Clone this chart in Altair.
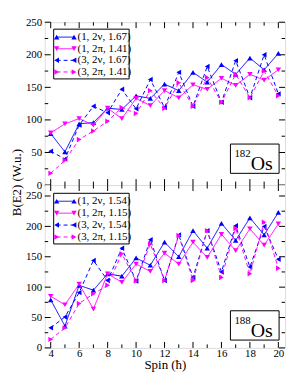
import altair as alt
import pandas as pd

# ---------------- data ----------------
spin = list(range(4, 21))

os182_1nu = [79, 51, 94, 96, 118, 116, 137, 133, 155, 145, 173, 158, 185, 170, 195, 177, 202]
os182_1pi = [80, 94, 102, 92, 118, 102, 133, 122, 145, 134, 154, 147, 164, 153, 170, 161, 177]
os182_3nu = [52, 40, 92, 121, 111, 147, 117, 162, 119, 173, 121, 182, 127, 191, 134, 200, 140]
os182_3pi = [18, 38, 70, 83, 98, 119, 110, 145, 118, 157, 121, 165, 127, 170, 134, 175, 137]

os188_1nu = [79, 36, 103, 95, 122, 118, 148, 136, 174, 150, 193, 164, 205, 177, 214, 186, 223]
os188_1pi = [85, 71, 105, 64, 122, 108, 138, 126, 156, 138, 174, 149, 187, 160, 196, 169, 204]
os188_3nu = [33, 51, 91, 144, 111, 164, 110, 178, 111, 186, 116, 193, 125, 201, 133, 200, 146]
os188_3pi = [14, 33, 73, 89, 103, 155, 110, 171, 111, 185, 111, 193, 116, 197, 122, 207, 131]

labels182 = ["(1, 2ν, 1.67)", "(1, 2π, 1.41)", "(3, 2ν, 1.67)", "(3, 2π, 1.41)"]
labels188 = ["(1, 2ν, 1.54)", "(1, 2π, 1.15)", "(3, 2ν, 1.54)", "(3, 2π, 1.15)"]

x_major = [4, 6, 8, 10, 12, 14, 16, 18, 20]
x_minor = [5, 7, 9, 11, 13, 15, 17, 19]
y_major = [0, 50, 100, 150, 200, 250]
y_minor = [25, 75, 125, 175, 225]

# ---------------- style ----------------
keys = ["a", "b", "c", "d"]
colors = ["#0000ff", "#ff00ff", "#0000ff", "#ff00ff"]
shapes = ["triangle-up", "triangle-down", "triangle-left", "triangle-right"]
dashes = [[1, 0], [1, 0], [4, 3], [4, 3]]
FONT = "'Liberation Serif', 'Times New Roman', serif"
W, H = 242, 164
ONE = alt.Data(values=[{"k": 0}])


def panel(series, labels, mass, ydomain, bottom, row0, rowstep, iso_y0):
    rows = []
    for key, vals in zip(keys, series):
        for s, v in zip(spin, vals):
            rows.append({"spin": s, "B": v, "series": key})
    df = pd.DataFrame(rows)

    xs = alt.Scale(domain=[3.58, 20.47], nice=False, zero=False)
    ys = alt.Scale(domain=ydomain, nice=False, zero=False)
    if bottom:
        xaxis = alt.Axis(values=x_major, title="Spin (ħ)", ticks=False, tickSize=0,
                         domain=False, grid=False, labelFont=FONT, labelFontSize=11,
                         labelColor="black", labelPadding=0, titleFont=FONT,
                         titleFontSize=13, titleFontWeight="normal", titleColor="black",
                         titlePadding=0, format="d")
    else:
        xaxis = None
    yaxis = alt.Axis(values=y_major, title=None, ticks=False, tickSize=0, domain=False,
                     grid=False, labelFont=FONT, labelFontSize=11, labelColor="black",
                     labelPadding=3, format="d")

    X = lambda f: alt.X(f, scale=xs, axis=xaxis)
    Y = lambda f: alt.Y(f, scale=ys, axis=yaxis)

    color = alt.Color("series:N", scale=alt.Scale(domain=keys, range=colors), legend=None)
    dash = alt.StrokeDash("series:N", scale=alt.Scale(domain=keys, range=dashes), legend=None)
    shape = alt.Shape("series:N", scale=alt.Scale(domain=keys, range=shapes), legend=None)

    layers = []
    # inward ticks
    for vals, ln in ((x_major, 6), (x_minor, 3.5)):
        tdf = pd.DataFrame({"v": vals})
        layers.append(alt.Chart(tdf).mark_rule(color="black", strokeWidth=1).encode(
            x=X("v:Q"), y=alt.value(H), y2=alt.value(H - ln)))
        layers.append(alt.Chart(tdf).mark_rule(color="black", strokeWidth=1).encode(
            x=X("v:Q"), y=alt.value(0), y2=alt.value(ln)))
    ymin = [v for v in y_minor if v <= ydomain[1]]
    for vals, ln in ((y_major, 6), (ymin, 3.5)):
        tdf = pd.DataFrame({"v": vals})
        layers.append(alt.Chart(tdf).mark_rule(color="black", strokeWidth=1).encode(
            y=Y("v:Q"), x=alt.value(0), x2=alt.value(ln)))
        layers.append(alt.Chart(tdf).mark_rule(color="black", strokeWidth=1).encode(
            y=Y("v:Q"), x=alt.value(W), x2=alt.value(W - ln)))

    # data
    for key in keys:
        sub = df[df.series == key]
        layers.append(alt.Chart(sub).mark_line(strokeWidth=1).encode(
            x=X("spin:Q"), y=Y("B:Q"), color=color, strokeDash=dash))
        layers.append(alt.Chart(sub).mark_point(filled=True, size=30, opacity=1).encode(
            x=X("spin:Q"), y=Y("B:Q"), color=color, shape=shape))

    # legend
    y_top = row0 - 8
    y_bot = row0 + 3 * rowstep + 7
    layers.append(alt.Chart(ONE).mark_rect(fill="white", stroke="black", strokeWidth=1).encode(
        x=alt.value(9), x2=alt.value(85), y=alt.value(y_top), y2=alt.value(y_bot)))
    for i, (lab, c, sh, d) in enumerate(zip(labels, colors, shapes, dashes)):
        yy = row0 + i * rowstep
        layers.append(alt.Chart(ONE).mark_rule(color=c, strokeWidth=1, strokeDash=d).encode(
            x=alt.value(12), x2=alt.value(29.5), y=alt.value(yy)))
        for xx in (12, 29.5):
            layers.append(alt.Chart(ONE).mark_point(filled=True, size=30, opacity=1, color=c,
                                                    shape=sh).encode(
                x=alt.value(xx), y=alt.value(yy)))
        layers.append(alt.Chart(ONE).mark_text(text=lab, font=FONT, fontSize=11, color="black",
                                               align="left", baseline="middle").encode(
            x=alt.value(33), y=alt.value(yy)))

    # isotope label
    layers.append(alt.Chart(ONE).mark_rect(fill="white", stroke="black", strokeWidth=1).encode(
        x=alt.value(187), x2=alt.value(236), y=alt.value(iso_y0), y2=alt.value(iso_y0 + 29.5)))
    layers.append(alt.Chart(ONE).mark_text(text=mass, font=FONT, fontSize=11, color="black",
                                           align="left", baseline="middle").encode(
        x=alt.value(191), y=alt.value(iso_y0 + 10)))
    layers.append(alt.Chart(ONE).mark_text(text="Os", font=FONT, fontSize=20, color="black",
                                           align="left", baseline="alphabetic").encode(
        x=alt.value(207.5), y=alt.value(iso_y0 + 26.5)))

    if not bottom:
        layers.append(alt.Chart(ONE).mark_text(text="B(E2) (W.u.)", font=FONT, fontSize=13,
                                               color="black", angle=270, align="center",
                                               baseline="middle").encode(
            x=alt.value(-27.5), y=alt.value(161.5)))

    return alt.layer(*layers).properties(width=W, height=H)


top = panel([os182_1nu, os182_1pi, os182_3nu, os182_3pi], labels182, "182",
            [0, 250], False, 15, 11.7, 122.7)
bot = panel([os188_1nu, os188_1pi, os188_3nu, os188_3pi], labels188, "188",
            [0, 268], True, 16.3, 12.0, 126.6)

chart = alt.vconcat(top, bot, spacing=0, bounds="flush").properties(
    padding={"left": 3, "top": 6, "right": 5, "bottom": 5}
).configure_view(stroke="black", strokeWidth=1).configure(background="white")

chart.save("out.html", embed_options={"renderer": "svg", "actions": False})
